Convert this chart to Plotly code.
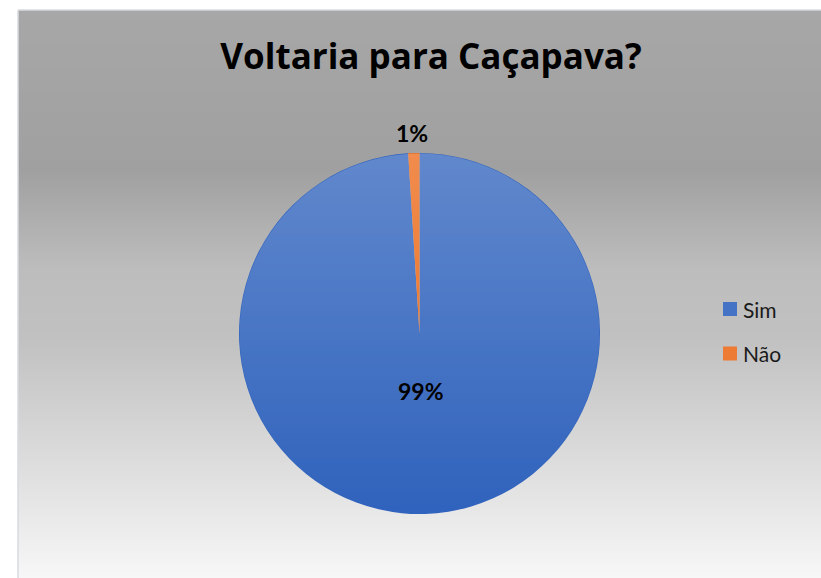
import base64
import struct
import zlib

import numpy as np
import plotly.graph_objects as go

# ---- data ----
labels = ["Sim", "Não"]
values = [99, 1]
title_text = "Voltaria para Caçapava?"

# ---- styles ----
W, H = 821, 578
slice_colors = ["#3063BD", "#EC6816"]
legend_colors = ["#4472C4", "#EE7B34"]
FONT = "Lato"
label_pos = [(420.5, 391), (412.5, 132.5)]  # pixel centres of data labels


def png_uri(rgba):
    h, w, _ = rgba.shape
    raw = b"".join(b"\x00" + rgba[i].tobytes() for i in range(h))

    def chunk(t, d):
        return struct.pack(">I", len(d)) + t + d + struct.pack(">I", zlib.crc32(t + d) & 0xFFFFFFFF)

    png = (b"\x89PNG\r\n\x1a\n"
           + chunk(b"IHDR", struct.pack(">IIBBBBB", w, h, 8, 6, 0, 0, 0))
           + chunk(b"IDAT", zlib.compress(raw, 9))
           + chunk(b"IEND", b""))
    return "data:image/png;base64," + base64.b64encode(png).decode()


# background gradient (chart area x 18..821, y 10..578)
bx0, by0 = 18, 10
bh = H - by0
ys = np.arange(bh) + by0 + 0.5
stop_y = [10, 170, 270, 340, 433, 500, 578]
stop_v = [167, 160, 189, 193, 214, 229, 247]
g = np.interp(ys, stop_y, stop_v).round().astype(np.uint8)
bg = np.zeros((bh, 8, 4), dtype=np.uint8)
bg[:, :, 0] = g[:, None]
bg[:, :, 1] = g[:, None]
bg[:, :, 2] = g[:, None]
bg[:, :, 3] = 255
bg_uri = png_uri(bg)

# pie geometry (pixels)
cx, cy, R = 419.5, 333.5, 180.5
px0, py0 = cx - R, cy - R
D = int(round(2 * R))

# light overlay giving the pie a vertical gradient
yy, xx = np.mgrid[0:D, 0:D]
dist = np.hypot(xx + 0.5 - R, yy + 0.5 - R)
mask = np.clip(R - 0.6 - dist + 0.5, 0, 1)
alpha = 0.24 * (1 - (yy + 0.5) / D) * mask
ov = np.zeros((D, D, 4), dtype=np.uint8)
ov[:, :, :3] = 255
ov[:, :, 3] = (alpha * 255).round().astype(np.uint8)
ov_uri = png_uri(ov)

total = sum(values)
pct_text = [f"{round(100 * v / total)}%" for v in values]

fig = go.Figure()
fig.add_trace(go.Pie(
    labels=labels,
    values=values,
    sort=False,
    direction="clockwise",
    rotation=0,
    marker=dict(colors=slice_colors, line=dict(width=0)),
    textinfo="none",
    domain=dict(x=[px0 / W, (px0 + D) / W], y=[1 - (py0 + D) / H, 1 - py0 / H]),
    showlegend=False,
    hoverinfo="label+percent",
))

shapes = [
    dict(type="line", xref="paper", yref="paper", x0=bx0 / W, x1=1, y0=1 - by0 / H, y1=1 - by0 / H,
         line=dict(color="#D6DAE0", width=1.5)),
    dict(type="line", xref="paper", yref="paper", x0=bx0 / W, x1=bx0 / W, y0=0, y1=1 - by0 / H,
         line=dict(color="#D6DAE0", width=1.5)),
]
annotations = []
for i, lab in enumerate(labels):
    yc = 309 + i * 44.5
    shapes.append(dict(type="rect", xref="paper", yref="paper",
                       x0=723 / W, x1=737 / W, y0=1 - (yc + 7) / H, y1=1 - (yc - 7) / H,
                       fillcolor=legend_colors[i], line=dict(width=0)))
    annotations.append(dict(text=lab, xref="paper", yref="paper", x=741 / W, y=1 - yc / H,
                            xanchor="left", yanchor="middle", showarrow=False,
                            font=dict(family=FONT, size=21, color="#1a1a1a")))
for txt, (lx, ly) in zip(pct_text, label_pos):
    annotations.append(dict(text=txt, xref="paper", yref="paper", x=lx / W, y=1 - ly / H,
                            xanchor="center", yanchor="middle", showarrow=False,
                            font=dict(family=FONT, size=23, color="#000000", weight="bold")))

fig.update_layout(
    width=W, height=H,
    margin=dict(l=0, r=0, t=0, b=0),
    paper_bgcolor="#FFFFFF",
    plot_bgcolor="rgba(0,0,0,0)",
    title=dict(text=title_text, x=431 / W, y=1 - 57 / H, xref="paper", yref="container",
               xanchor="center", yanchor="middle",
               font=dict(family="Open Sans", size=35, color="#000000", weight="bold")),
    images=[
        dict(source=bg_uri, xref="paper", yref="paper", x=bx0 / W, y=1 - by0 / H,
             sizex=(W - bx0) / W, sizey=bh / H, xanchor="left", yanchor="top",
             sizing="stretch", layer="below"),
        dict(source=ov_uri, xref="paper", yref="paper", x=px0 / W, y=1 - py0 / H,
             sizex=D / W, sizey=D / H, xanchor="left", yanchor="top",
             sizing="stretch", layer="above"),
    ],
    shapes=shapes,
    annotations=annotations,
    showlegend=False,
)

fig.write_html(
    "out.html",
    config={"displayModeBar": False},
    post_script="document.body.style.margin='0px';document.body.style.overflow='hidden';",
)
